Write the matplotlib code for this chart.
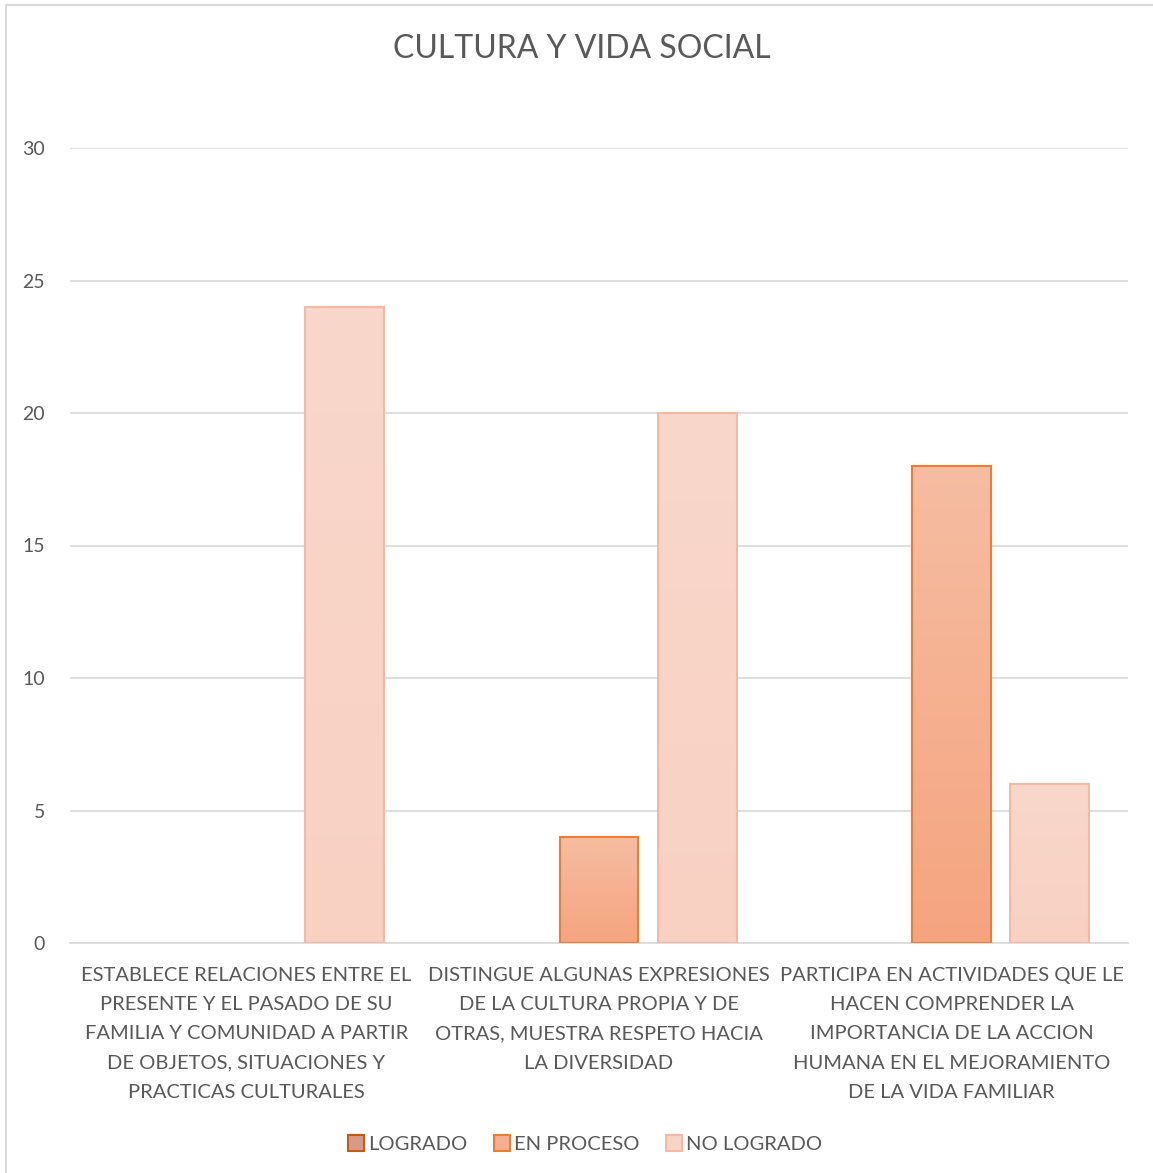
import matplotlib
matplotlib.use("Agg")
import matplotlib.pyplot as plt
import numpy as np
from matplotlib.lines import Line2D
from matplotlib.patches import Patch
from matplotlib.colors import LinearSegmentedColormap

categories = [
    "ESTABLECE RELACIONES ENTRE EL\nPRESENTE Y EL PASADO DE SU\nFAMILIA Y COMUNIDAD A PARTIR\nDE OBJETOS, SITUACIONES Y\nPRACTICAS CULTURALES",
    "DISTINGUE ALGUNAS EXPRESIONES\nDE LA CULTURA PROPIA Y DE\nOTRAS, MUESTRA RESPETO HACIA\nLA DIVERSIDAD",
    "PARTICIPA EN ACTIVIDADES QUE LE\nHACEN COMPRENDER LA\nIMPORTANCIA DE LA ACCION\nHUMANA EN EL MEJORAMIENTO\nDE LA VIDA FAMILIAR",
]
series_names = ["LOGRADO", "EN PROCESO", "NO LOGRADO"]
logrado = [0, 0, 0]
en_proceso = [0, 4, 18]
no_logrado = [24, 20, 6]
yticks = [0, 5, 10, 15, 20, 25, 30]

plt.rcParams['font.family'] = ['Lato', 'DejaVu Sans']
text_color = "#595959"

fig = plt.figure(figsize=(11.53, 11.73), dpi=100)
ax = fig.add_axes([70/1153, 1 - 943/1173, (1128-70)/1153, (943-148)/1173])

x = np.arange(len(categories))
w = 0.224
off = 0.278
fills = ["#D9998A", "#F5B093", "#F8D4C6"]
edges = ["#C55A11", "#ED7D31", "#F4B9A5"]
grad_top = ["#E0AFA3", "#F5BDA2", "#F9D7CB"]
grad_bot = ["#D28A78", "#F6A47F", "#F8D1C3"]
data = [logrado, en_proceso, no_logrado]
for i, (vals, fc, ec, name) in enumerate(zip(data, fills, edges, series_names)):
    lws = [1.5 if v > 0 else 0 for v in vals]
    bars = ax.bar(x + (i - 1) * off, vals, width=w, color=fc, edgecolor=ec,
                  linewidth=lws, zorder=3, label=name)
    cmap = LinearSegmentedColormap.from_list("g%d" % i, [grad_bot[i], grad_top[i]])
    for b in bars:
        h = b.get_height()
        if h <= 0:
            continue
        x0 = b.get_x()
        im = ax.imshow(np.linspace(0, 1, 256).reshape(-1, 1), cmap=cmap, origin="lower",
                       extent=[x0, x0 + b.get_width(), 0, h], aspect="auto", zorder=3.5,
                       interpolation="bilinear")
        im.set_clip_path(b)
        b.set_facecolor("none")
        b.set_zorder(4)

ax.set_xlim(-0.5, 2.5)
ax.set_ylim(0, 30)
ax.set_yticks(yticks)
ax.set_yticklabels([str(v) for v in yticks], fontsize=14, color=text_color)
ax.set_xticks(x)
ax.set_xticklabels(categories, fontsize=14.5, color=text_color, linespacing=1.88, va="top")
ax.tick_params(axis='both', length=0)
ax.tick_params(axis='y', pad=18)
ax.tick_params(axis='x', pad=17)
ax.yaxis.grid(True, color="#D9D9D9", linewidth=1.2, zorder=0)
for s in ["top", "right", "left"]:
    ax.spines[s].set_visible(False)
ax.spines["bottom"].set_color("#D9D9D9")
ax.spines["bottom"].set_linewidth(1.2)
ax.set_axisbelow(True)

fig.text(582/1153, 1 - 49/1173, "CULTURA Y VIDA SOCIAL", ha="center", va="center",
         fontsize=23, color=text_color)

handles = [Patch(facecolor=fc, edgecolor=ec, linewidth=1.5) for fc, ec in zip(fills, edges)]
fig.legend(handles, series_names, loc="center", bbox_to_anchor=(585/1153, 1 - 1144/1173),
           ncol=3, frameon=False, fontsize=14.5, labelcolor=text_color,
           handlelength=0.8, handleheight=0.8, handletextpad=0.2, columnspacing=1.3)

# chart border
fig.add_artist(Line2D([6/1153, 6/1153], [0, 1 - 5/1173], transform=fig.transFigure, color="#D9D9D9", linewidth=1.5))
fig.add_artist(Line2D([6/1153, 1], [1 - 5/1173, 1 - 5/1173], transform=fig.transFigure, color="#D9D9D9", linewidth=1.5))

fig.savefig("out.png", dpi=100, facecolor="white")
